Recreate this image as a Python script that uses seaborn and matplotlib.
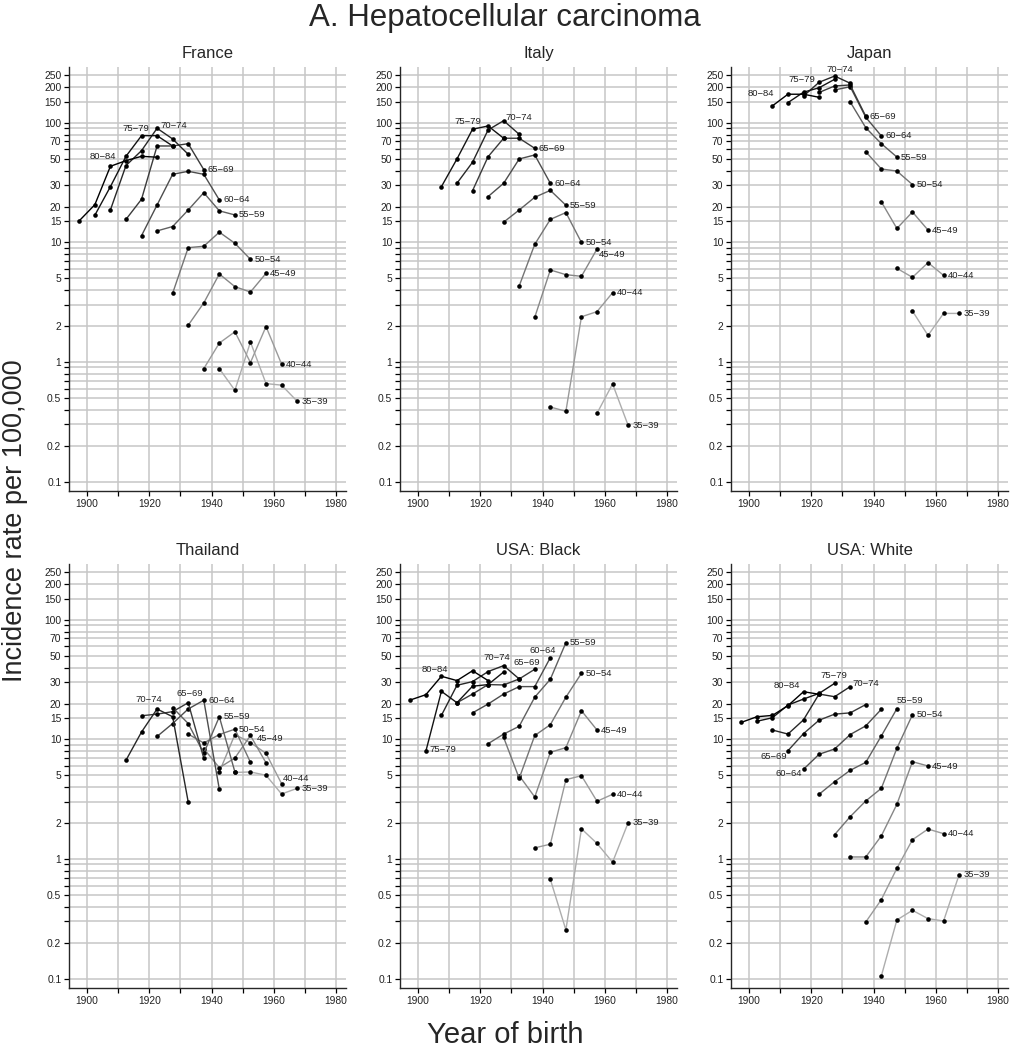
# Age-period-cohort plot: hepatocellular carcinoma incidence by birth cohort
import matplotlib
matplotlib.use('Agg')
import matplotlib.pyplot as plt
import numpy as np
import pandas as pd
import seaborn as sns

# ---- data {{{
AGES = ['35−39', '40−44', '45−49', '50−54', '55−59',
        '60−64', '65−69', '70−74', '75−79', '80−84']

# first birth cohort (mid-year) of each age group, 35-39 ... 80-84
france_first = [1942.5, 1937.5, 1932.5, 1927.5, 1922.5, 1917.5, 1912.5, 1907.5, 1902.5, 1897.5]
france_rates = [
    [0.88, 0.58, 1.47, 0.66, 0.64, 0.47],
    [0.88, 1.44, 1.79, 0.99, 1.98, 0.96],
    [2.03, 3.12, 5.45, 4.27, 3.85, 5.52],
    [3.76, 9.05, 9.3, 12.2, 9.85, 7.23],
    [12.5, 13.6, 18.7, 26.1, 18.4, 17.0],
    [11.4, 20.6, 37.2, 39.4, 37.2, 22.7],
    [15.6, 23.0, 64.2, 64.2, 67.1, 40.7],
    [18.7, 44.0, 58.7, 90.3, 73.5, 54.7],
    [16.9, 29.3, 52.6, 78.3, 78.3, 64.2],
    [15.2, 20.7, 43.4, 48.4, 52.6, 51.7],
]

italy_first = [1957.5, 1942.5, 1937.5, 1932.5, 1927.5, 1922.5, 1917.5, 1912.5, 1907.5, None]
italy_rates = [
    [0.372, 0.655, 0.295],
    [0.42, 0.387, 2.39, 2.64, 3.80],
    [2.37, 5.89, 5.38, 5.21, 8.82],
    [4.33, 9.66, 15.6, 17.8, 10.0],
    [14.8, 18.7, 23.9, 27.3, 20.5],
    [24.2, 31.3, 50.0, 54.0, 31.3],
    [27.1, 52.2, 74.5, 74.5, 61.4],
    [31.3, 46.9, 87.4, 104.5, 80.4],
    [29.3, 50.0, 88.6, 94.4, 74.5],
    [],
]

japan_first = [1952.5, 1947.5, 1942.5, 1937.5, 1932.5, 1927.5, 1922.5, 1917.5, 1912.5, 1907.5]
japan_rates = [
    [2.67, 1.67, 2.55, 2.55],
    [6.08, 5.11, 6.78, 5.31],
    [21.9, 13.1, 18.0, 12.7],
    [57.5, 41.2, 39.6, 30.5],
    [150.0, 91.3, 67.1, 51.9],
    [189.0, 201.0, 111.6, 77.9],
    [180.0, 204.0, 208.0, 113.8],
    [168.0, 219.0, 247.0, 215.0],
    [148.0, 181.0, 197.0, 232.0],
    [139.0, 174.0, 174.0, 164.0],
]

thai_first = [1947.5, 1942.5, 1937.5, 1932.5, 1927.5, 1922.5, 1917.5, 1912.5, None, None]
thai_rates = [
    [5.3, 5.35, 5.02, 3.5, 3.90],
    [5.35, 11.0, 9.42, 7.66, 4.27],
    [8.38, 5.81, 7.0, 10.8, 6.37],
    [11.1, 9.35, 11.0, 12.2, 6.44],
    [18.5, 13.6, 7.66, 15.5, 5.35],
    [10.6, 13.6, 18.0, 21.3, 3.83],
    [15.8, 16.3, 17.1, 20.3, 6.96],
    [6.70, 11.55, 18.0, 15.5, 3.0],
    [],
    [],
]

usab_first = [1942.5, 1937.5, 1932.5, 1927.5, 1922.5, 1917.5, 1912.5, 1907.5, 1902.5, 1897.5]
usab_rates = [
    [0.676, 0.255, 1.79, 1.35, 0.94, 2.01],
    [1.24, 1.33, 4.61, 4.98, 3.04, 3.48],
    [4.98, 3.30, 7.81, 8.55, 17.4, 12.0],
    [10.4, 4.73, 10.8, 13.3, 22.6, 35.8],
    [9.22, 11.1, 12.9, 22.6, 31.9, 64.6],
    [16.7, 19.8, 24.0, 27.7, 27.7, 48.4],
    [20.3, 24.0, 28.8, 28.6, 32.1, 38.7],
    [15.9, 28.4, 30.5, 37.0, 41.5, 32.1],
    [7.96, 25.3, 20.3, 27.9, 28.8, 36.7],
    [21.4, 23.7, 33.8, 31.1, 37.6, 31.1],
]

usaw_first = [1942.5, 1937.5, 1932.5, 1927.5, 1922.5, 1917.5, 1912.5, 1907.5, 1902.5, 1897.5]
usaw_rates = [
    [0.105, 0.309, 0.372, 0.317, 0.303, 0.739],
    [0.297, 0.457, 0.836, 1.45, 1.78, 1.63],
    [1.04, 1.04, 1.56, 2.87, 6.52, 6.0],
    [1.60, 2.26, 3.06, 3.90, 8.44, 16.1],
    [3.48, 4.44, 5.52, 6.44, 10.7, 18.1],
    [5.63, 7.52, 8.33, 11.0, 13.0, 17.9],
    [8.06, 11.2, 14.5, 16.3, 16.7, 19.6],
    [12.0, 11.1, 14.6, 24.0, 22.8, 27.7],
    [14.2, 15.2, 19.4, 21.8, 24.3, 29.5],
    [13.9, 15.5, 15.9, 19.2, 25.1, 23.9],
]

COUNTRIES = ['France', 'Italy', 'Japan', 'Thailand', 'USA: Black', 'USA: White']
FIRSTS = [france_first, italy_first, japan_first, thai_first, usab_first, usaw_first]
RATES = [france_rates, italy_rates, japan_rates, thai_rates, usab_rates, usaw_rates]

GRID_VALUES = [0.1, 0.2, 0.3, 0.4, 0.5, 0.6, 0.7, 0.8, 0.9, 1, 2, 3, 4, 5, 6, 7, 8, 9,
               10, 15, 20, 30, 40, 50, 60, 70, 80, 90, 100, 150, 200, 250]
LABELED = [0.1, 0.2, 0.5, 1, 2, 5, 10, 15, 20, 30, 50, 70, 100, 150, 200, 250]
#}}}

# ---- label placement: age -> (point index, dx px, dy px, ha) {{{
DEFAULT_LABEL = (-1, 4, 0, 'left')
LABEL_POS = {
    'France': {'80−84': (2, -8, 10, 'center'), '75−79': (3, -6, 7, 'center'),
               '70−74': (3, 17, 3, 'center')},
    'Italy': {'75−79': (2, -5, 8, 'center'), '70−74': (3, 15, 3, 'center'),
              '45−49': (-1, 2, -5, 'left')},
    'Japan': {'80−84': (0, -12, 12, 'center'), '75−79': (2, -17, 8, 'center'),
              '70−74': (2, 5, 7, 'center')},
    'Thailand': {'70−74': (2, -8, 9, 'center'), '65−69': (3, 2, 9, 'center'),
                 '60−64': (3, 5, 0, 'left'), '55−59': (3, 4, 0, 'left'),
                 '50−54': (3, 4, 0, 'left'), '45−49': (3, 6, -3, 'left'),
                 '40−44': (-1, 1, 5, 'left')},
    'USA: Black': {'80−84': (2, -7, 7, 'center'), '75−79': (0, 4, 2, 'left'),
                   '70−74': (4, -7, 8, 'center'), '65−69': (-1, -8, 7, 'center'),
                   '60−64': (-1, -8, 7, 'center')},
    'USA: White': {'80−84': (4, -17, 6, 'center'), '75−79': (-1, -1, 8, 'center'),
                   '70−74': (-1, 2, 3, 'left'), '65−69': (0, -14, -6, 'center'),
                   '60−64': (0, -15, -4, 'center'), '55−59': (-1, 13, 8, 'center')},
}
#}}}


def build_frame():
    rows = []
    for country, firsts, rates in zip(COUNTRIES, FIRSTS, RATES):
        for age, first, vals in zip(AGES, firsts, rates):
            for k, v in enumerate(vals):
                rows.append((country, age, first + 5 * k, v))
    return pd.DataFrame(rows, columns=['country', 'age', 'cohort', 'rate'])


def main():
    sns.set_style('ticks')
    plt.rcParams['font.family'] = ['Liberation Sans', 'DejaVu Sans']

    df = build_frame()
    greys = {a: str(round(0.68 * (9 - i) / 9, 3)) for i, a in enumerate(AGES)}

    W, H = 1010, 1050
    fig = plt.figure(figsize=(W / 100, H / 100), dpi=100)
    lefts = [69, 400, 731]
    tops = [67, 564]
    pw, ph = 277, 424

    for n, country in enumerate(COUNTRIES):
        r, c = divmod(n, 3)
        ax = fig.add_axes([lefts[c] / W, 1 - (tops[r] + ph) / H, pw / W, ph / H])
        sub = df[df['country'] == country]
        order = [a for a in AGES if a in set(sub['age'])]
        sns.lineplot(data=sub, x='cohort', y='rate', hue='age', hue_order=order,
                     palette=greys, estimator=None, legend=False, ax=ax,
                     linewidth=1.0, marker='o', markersize=3.3,
                     markerfacecolor='black', markeredgecolor='black',
                     markeredgewidth=0)
        ax.set_yscale('log')
        ax.set_xlim(1894.2, 1983.2)
        ax.set_ylim(0.0833, 294)
        ax.set_yticks(GRID_VALUES)
        ax.set_yticklabels([f'{v:g}' if v in LABELED else '' for v in GRID_VALUES])
        ax.minorticks_off()
        ax.set_xticks(np.arange(1900, 1981, 10))
        ax.set_xticklabels([str(y) if y % 20 == 0 else '' for y in range(1900, 1981, 10)])
        ax.grid(True, color='#c6c6c6', linewidth=1.1)
        ax.set_axisbelow(True)
        ax.tick_params(axis='both', length=3.5, width=0.9, labelsize=7.4,
                       color='black', labelcolor='#222222', pad=2)
        sns.despine(ax=ax)
        for s in ['left', 'bottom']:
            ax.spines[s].set_linewidth(1.0)
        ax.set_xlabel('')
        ax.set_ylabel('')
        ax.set_title(country, fontsize=12, pad=6.5)

        # age-group labels
        spec = LABEL_POS.get(country, {})
        for age in order:
            pts = sub[sub['age'] == age].sort_values('cohort')
            idx, dx, dy, ha = spec.get(age, DEFAULT_LABEL)
            row = pts.iloc[idx]
            ax.annotate(age, xy=(row['cohort'], row['rate']), xytext=(dx, dy),
                        textcoords='offset pixels', ha=ha, va='center',
                        fontsize=6.8, color='#222222')

    fig.text(0.5, 1 - 18 / H, 'A. Hepatocellular carcinoma', ha='center', va='center',
             fontsize=22.5)
    fig.text(15 / W, 1 - 521 / H, 'Incidence rate per 100,000', ha='center', va='center',
             rotation=90, fontsize=19.5)
    fig.text(0.5, 1 - 1035 / H, 'Year of birth', ha='center', va='center', fontsize=21)

    fig.savefig('out.png', dpi=100)
    plt.close(fig)


if __name__ == '__main__':
    main()
